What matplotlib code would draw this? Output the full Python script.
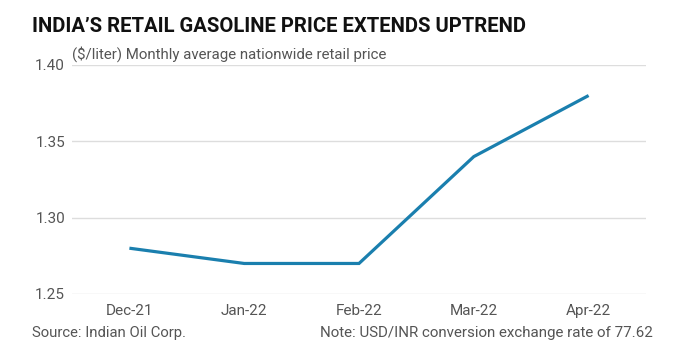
import matplotlib
matplotlib.use("Agg")
import matplotlib.pyplot as plt

months = ["Dec-21", "Jan-22", "Feb-22", "Mar-22", "Apr-22"]
prices = [1.28, 1.27, 1.27, 1.34, 1.38]
y_ticks = [1.25, 1.30, 1.35, 1.40]

plt.rcParams['font.family'] = ['Roboto', 'DejaVu Sans']

fig = plt.figure(figsize=(6.93, 3.5), dpi=100)
ax = fig.add_axes([72/693, 1-294/350, (646-72)/693, (294-65)/350])

ax.plot(range(len(months)), prices, color="#1a7fae", linewidth=2.3,
        solid_capstyle="butt", solid_joinstyle="miter", zorder=3)

ax.set_xlim(-0.5, len(months) - 0.5)
ax.set_ylim(y_ticks[0], y_ticks[-1])
ax.set_xticks(range(len(months)))
ax.set_xticklabels(months)
ax.set_yticks(y_ticks)
ax.set_yticklabels([f"{v:.2f}" for v in y_ticks])
ax.tick_params(length=0, labelsize=11, labelcolor="#555555")
ax.tick_params(axis="x", pad=7)
ax.tick_params(axis="y", pad=5)
ax.grid(axis="y", color="#dddddd", linewidth=1)
ax.set_axisbelow(True)
for s in ax.spines.values():
    s.set_visible(False)

fig.text(32/693, 1-26/350, "INDIA’S RETAIL GASOLINE PRICE EXTENDS UPTREND",
         fontsize=14.6, fontweight="bold", color="#111111", va="center", ha="left")
fig.text(72/693, 1-54/350, "($/liter) Monthly average nationwide retail price",
         fontsize=10.8, color="#555555", va="center", ha="left")
fig.text(32/693, 1-333/350, "Source: Indian Oil Corp.",
         fontsize=10.7, color="#555555", va="center", ha="left")
fig.text(653/693, 1-333/350, "Note: USD/INR conversion exchange rate of 77.62",
         fontsize=10.9, color="#555555", va="center", ha="right")

fig.savefig("out.png", dpi=100, facecolor="white")
